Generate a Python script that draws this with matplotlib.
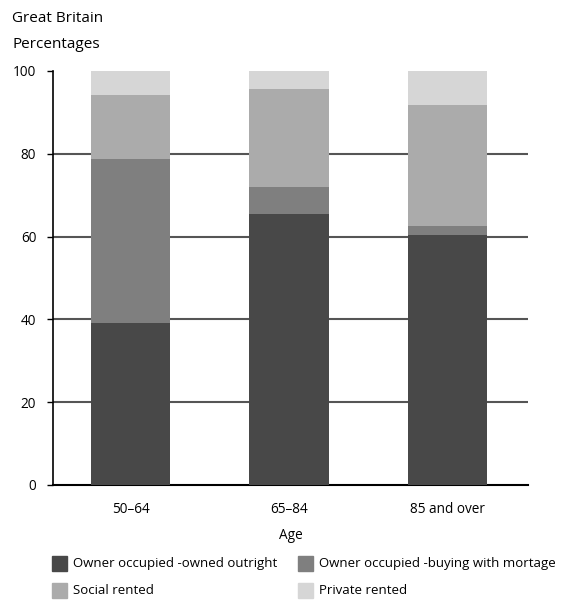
import matplotlib.pyplot as plt
from matplotlib.patches import Rectangle
import numpy as np

plt.rcParams['font.family'] = ['Open Sans', 'DejaVu Sans']

# Datos: tenencia de vivienda por grupo de edad (porcentajes)
ages = ['50–64', '65–84', '85 and over']
outright = [39.2, 65.5, 60.4]
mortgage = [39.6, 6.5, 2.2]
social = [15.4, 23.7, 29.2]
private = [5.8, 4.3, 8.2]

series = [outright, mortgage, social, private]
labels = ['Owner occupied -owned outright', 'Owner occupied -buying with mortage',
          'Social rented', 'Private rented']
colors = ['#484848', '#7f7f7f', '#ababab', '#d6d6d6']

fig = plt.figure(figsize=(5.67, 6.03), dpi=100)
ax = fig.add_axes([53 / 567, 118 / 603, 475 / 567, 414 / 603])

# Barras apiladas
x = np.arange(len(ages))
bottom = np.zeros(len(ages))
for vals, col in zip(series, colors):
    ax.bar(x, vals, width=0.5, bottom=bottom, color=col, zorder=3)
    bottom += np.array(vals)

ax.set_xlim(-0.49, 2.51)
ax.set_ylim(0, 100)
ax.set_yticks([0, 20, 40, 60, 80, 100])
for yv in [20, 40, 60, 80]:
    ax.axhline(yv, color='#555555', lw=1.5, zorder=1)

ax.set_xticks(x)
ax.set_xticklabels(ages, fontsize=9.8)
ax.tick_params(axis='x', length=0, pad=12)
ax.tick_params(axis='y', length=4, width=1, labelsize=9.8, pad=8)
ax.set_xlabel('Age', fontsize=9.8, labelpad=8)

for s in ['top', 'right']:
    ax.spines[s].set_visible(False)
ax.spines['left'].set_linewidth(1.2)
ax.spines['bottom'].set_linewidth(1.5)

fig.text(12 / 567, 1 - 18 / 603, 'Great Britain', fontsize=11, va='center')
fig.text(12 / 567, 1 - 45 / 603, 'Percentages', fontsize=11, va='center')

# Leyenda dibujada a mano en dos columnas
pos = [(52, 563), (298, 563), (52, 590), (298, 590)]
for (px, py), lab, col in zip(pos, labels, colors):
    fig.add_artist(Rectangle((px / 567, 1 - (py + 8) / 603), 15 / 567, 15 / 603,
                             color=col, transform=fig.transFigure))
    fig.text((px + 21) / 567, 1 - py / 603, lab, fontsize=9.5, va='center')

fig.savefig('out.png', dpi=100)
